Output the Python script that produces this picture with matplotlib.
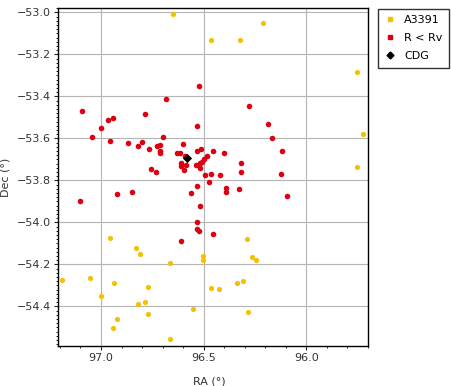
import matplotlib
matplotlib.use("Agg")
import matplotlib.pyplot as plt
from matplotlib.ticker import MultipleLocator
from matplotlib.lines import Line2D

# A3391 members (visible ones)
a3391_ra = [96.648, 96.463, 96.212, 96.324, 95.753, 95.725, 95.753, 97.189, 96.956,
            96.828, 96.808, 96.666, 97.052, 96.935, 96.998, 96.769, 96.784, 96.818,
            96.769, 96.920, 96.940, 96.666, 96.554, 96.505, 96.505, 96.463, 96.424,
            96.290, 96.266, 96.246, 96.339, 96.310, 96.285]
a3391_dec = [-53.008, -53.133, -53.052, -53.133, -53.284, -53.580, -53.737, -54.275, -54.076,
             -54.124, -54.151, -54.195, -54.267, -54.290, -54.351, -54.308, -54.381, -54.390,
             -54.438, -54.460, -54.503, -54.556, -54.413, -54.162, -54.181, -54.314, -54.318,
             -54.081, -54.167, -54.181, -54.290, -54.281, -54.427]

# galaxies inside the virial radius
rv_ra = [97.091, 96.964, 96.940, 96.784, 96.999, 97.043, 96.955, 96.867, 96.798, 96.818,
         96.764, 96.754, 96.730, 96.920, 96.847, 97.101, 96.696, 96.725, 96.712, 96.715,
         96.715, 96.603, 96.630, 96.617, 96.591, 96.611, 96.611, 96.585, 96.598, 96.532,
         96.515, 96.484, 96.497, 96.508, 96.516, 96.456, 96.403, 96.539, 96.520, 96.495,
         96.466, 96.422, 96.476, 96.530, 96.564, 96.520, 96.393, 96.393, 96.329, 96.320,
         96.320, 96.525, 96.681, 96.530, 96.280, 96.188, 96.168, 96.119, 96.124, 96.095,
         96.530, 96.533, 96.524, 96.456, 96.608]
rv_dec = [-53.471, -53.511, -53.505, -53.486, -53.552, -53.595, -53.614, -53.624, -53.619, -53.638,
          -53.652, -53.748, -53.762, -53.867, -53.857, -53.898, -53.595, -53.637, -53.633, -53.659,
          -53.671, -53.629, -53.671, -53.671, -53.684, -53.719, -53.732, -53.726, -53.752, -53.662,
          -53.652, -53.683, -53.699, -53.714, -53.719, -53.662, -53.671, -53.727, -53.740, -53.776,
          -53.770, -53.776, -53.810, -53.829, -53.862, -53.924, -53.838, -53.857, -53.843, -53.719,
          -53.762, -53.352, -53.414, -53.543, -53.448, -53.533, -53.600, -53.662, -53.771, -53.876,
          -54.000, -54.033, -54.043, -54.057, -54.090]

cdg_ra = [96.581]
cdg_dec = [-53.695]

yellow = '#f2c200'
red = '#dd0010'

fig = plt.figure(figsize=(4.52, 3.86), dpi=100)
ax = fig.add_axes([0.128, 0.104, 0.686, 0.875])

ax.scatter(a3391_ra, a3391_dec, s=14, c=yellow, linewidths=0, zorder=3)
ax.scatter(rv_ra, rv_dec, s=16, c=red, linewidths=0, zorder=4)
ax.scatter(cdg_ra, cdg_dec, s=22, c='black', marker='D', linewidths=0, zorder=5)

ax.set_xlim(97.21, 95.70)
ax.set_ylim(-54.588, -52.98)
ax.xaxis.set_major_locator(MultipleLocator(0.5))
ax.xaxis.set_minor_locator(MultipleLocator(0.1))
ax.yaxis.set_major_locator(MultipleLocator(0.2))
ax.yaxis.set_minor_locator(MultipleLocator(0.02))
ax.grid(True, which='major', color='#b4b4b4', linewidth=0.8, zorder=0)
ax.tick_params(which='major', length=3, pad=2, labelsize=8, colors='#222222', labelcolor='#333333')
ax.tick_params(which='minor', length=1.5)
for s in ax.spines.values():
    s.set_linewidth(1.0)
ax.set_xlabel('RA (°)', fontsize=8, color='#333333')
ax.set_ylabel('Dec (°)', fontsize=8, color='#333333')
ax.xaxis.set_label_coords(0.49, -0.09)
ax.yaxis.set_label_coords(-0.152, 0.5)

handles = [
    Line2D([], [], marker='s', linestyle='', color=yellow, markersize=3),
    Line2D([], [], marker='s', linestyle='', color=red, markersize=3),
    Line2D([], [], marker='D', linestyle='', color='black', markersize=3.5),
]
leg = fig.legend(handles, ['A3391', 'R < Rv', 'CDG'], loc='upper left',
                 bbox_to_anchor=(0.823, 0.992), fontsize=8, frameon=True,
                 fancybox=False, edgecolor='black', handlelength=1.0,
                 handletextpad=0.8, borderpad=0.6, labelspacing=0.7)
leg.get_frame().set_linewidth(1.0)

fig.savefig('out.png', dpi=100)
